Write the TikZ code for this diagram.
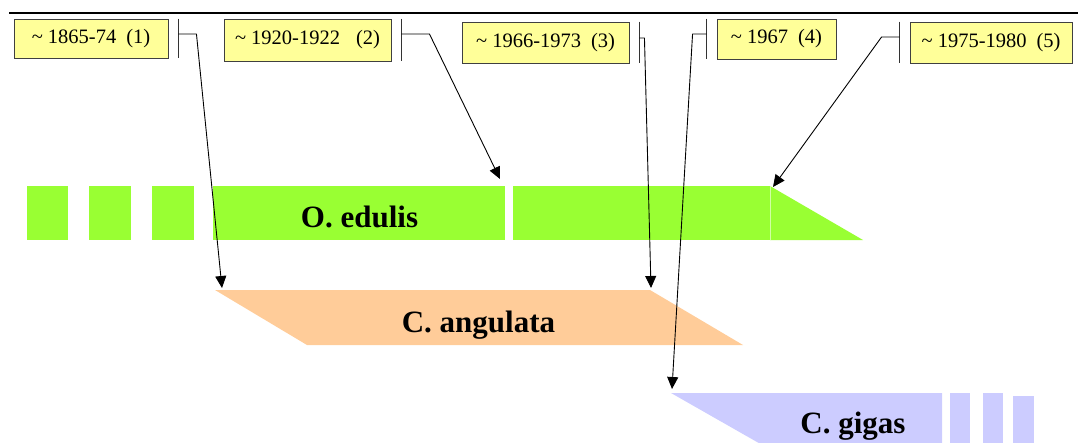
\documentclass[tikz,border=0pt]{standalone}
\usepackage{fontspec}
\setmainfont{Liberation Serif}
\usetikzlibrary{arrows.meta,calc}

\definecolor{noteyellow}{HTML}{FFFF99}
\definecolor{edulisgreen}{HTML}{99FF33}
\definecolor{angulataorange}{HTML}{FFCC99}
\definecolor{gigasblue}{HTML}{CCCCFF}

\begin{document}
\begin{tikzpicture}[x=1pt,y=-1pt,
  datebox/.style={draw=black!75, line width=0.9pt, fill=noteyellow, inner sep=0pt,
                  font=\fontsize{20.5}{24}\selectfont},
  tick/.style={draw=black!80, line width=1pt},
  pointer/.style={draw=black, line width=0.9pt, line join=round,
                  -{Triangle[length=12pt,width=11pt]}},
  barlabel/.style={font=\fontsize{31}{36}\selectfont\bfseries, anchor=base, inner sep=0pt}
]
\useasboundingbox (0,0) rectangle (1078,442);
\clip (0,0) rectangle (1078,442);

% top rule
\draw[line width=2pt] (9,13) -- (1078,13);

% O. edulis bar
\fill[edulisgreen] (27,186) rectangle (68,240);
\fill[edulisgreen] (89,186) rectangle (131,240);
\fill[edulisgreen] (152,186) rectangle (194,240);
\fill[edulisgreen] (213,186) rectangle (505,240);
\fill[edulisgreen] (513,186) rectangle (770,240);
\fill[edulisgreen] (770,186) -- (863,240) -- (770,240) -- cycle;
\draw[white!55!edulisgreen, line width=0.5pt] (770,186) -- (770,240);
\node[barlabel] (edulis) at (359.5,227) {O. edulis};

% C. angulata bar
\fill[angulataorange] (215,290) -- (650,290) -- (743,345) -- (307,345) -- cycle;
\node[barlabel] (angulata) at (478.5,332.5) {C. angulata};

% C. gigas bar
\fill[gigasblue] (671,393) -- (942,393) -- (942,450) -- (771,450) -- cycle;
\fill[gigasblue] (950,393) rectangle (970,450);
\fill[gigasblue] (983,393) rectangle (1003,450);
\fill[gigasblue] (1013,396) rectangle (1034,450);
\node[barlabel] (gigas) at (853,433) {C. gigas};

% date boxes
\node[datebox, minimum width=154pt, minimum height=39pt] (d1) at (91,38.5)
  {\textasciitilde{} 1865-74\hspace{10pt}(1)};
\node[datebox, minimum width=167pt, minimum height=42pt] (d2) at (307.5,40)
  {\textasciitilde{} 1920-1922\hspace{16pt}(2)};
\node[datebox, minimum width=167pt, minimum height=41pt] (d3) at (545.5,42.5)
  {\textasciitilde{} 1966-1973\hspace{10pt}(3)};
\node[datebox, minimum width=119pt, minimum height=40pt] (d4) at (776.5,39)
  {\textasciitilde{} 1967\hspace{10pt}(4)};
\node[datebox, minimum width=162pt, minimum height=41pt] (d5) at (991,42.5)
  {\textasciitilde{} 1975-1980\hspace{10pt}(5)};

% bracket ticks beside the boxes
\draw[tick] ($(d1.north east)+(10,0)$) -- ($(d1.south east)+(10,0)$);
\draw[tick] ($(d2.north east)+(10,0)$) -- ($(d2.south east)+(10,0)$);
\draw[tick] ($(d3.north east)+(10,0)$) -- ($(d3.south east)+(10,0)$);
\draw[tick] ($(d4.north west)+(-10,0)$) -- ($(d4.south west)+(-10,0)$);
\draw[tick] ($(d5.north west)+(-10,0)$) -- ($(d5.south west)+(-10,0)$);

% connector start points on the ticks
\coordinate (b1) at ($(d1.east)+(10,-4.5)$);
\coordinate (b2) at ($(d2.east)+(10,-6)$);
\coordinate (b3) at ($(d3.east)+(10,-4.5)$);
\coordinate (b4) at ($(d4.west)+(-10,-5)$);
\coordinate (b5) at ($(d5.west)+(-10,-5.5)$);

% connector end points on the bars
\coordinate (t1) at (222,288);
\coordinate (t2) at (500,179);
\coordinate (t3) at (651,288);
\coordinate (t4) at (672,389);
\coordinate (t5) at (773,187);

% connectors
\draw[pointer] (b1) -- ++(18,0) -- (t1);
\draw[pointer] (b2) -- ++(28,0) -- (t2);
\draw[pointer] (b3) -- ++(5,0) -- (t3);
\draw[pointer] (b4) -- ++(-14,0) -- (t4);
\draw[pointer] (b5) -- ++(-18,0) -- (t5);
\end{tikzpicture}
\end{document}
